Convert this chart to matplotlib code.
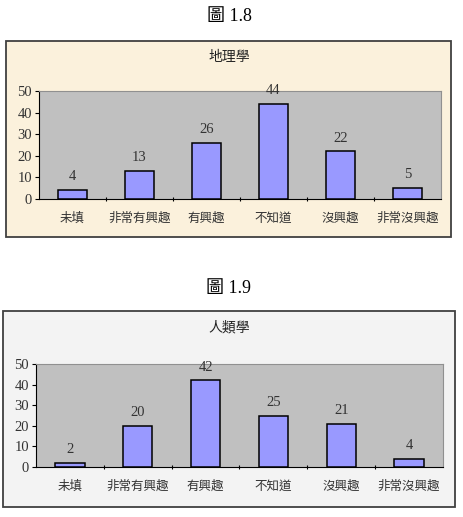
import matplotlib
matplotlib.use("Agg")
import matplotlib.pyplot as plt
from matplotlib.patches import Rectangle

categories = ["未填", "非常有興趣", "有興趣", "不知道", "沒興趣", "非常沒興趣"]
geo_values = [4, 13, 26, 44, 22, 5]
anth_values = [2, 20, 42, 25, 21, 4]
y_ticks = [0, 10, 20, 30, 40, 50]

CJK = ["Liberation Serif", "Noto Sans CJK TC"]
W, H = 463, 517

fig = plt.figure(figsize=(W / 100, H / 100), dpi=100)
fig.patch.set_facecolor("white")


def px_rect(x0, y0, x1, y1):
    # pixel box (top-left origin) -> figure fraction [left, bottom, width, height]
    return [x0 / W, 1 - y1 / H, (x1 - x0) / W, (y1 - y0) / H]


def draw_chart(fig_title, fig_title_y, box, box_color, plot_box, title, title_y, values):
    l, b, w, h = px_rect(*box)
    fig.patches.append(Rectangle((l, b), w, h, transform=fig.transFigure,
                                 facecolor=box_color, edgecolor="#404040",
                                 linewidth=1.3, zorder=-5))
    fig.text(229 / W, 1 - fig_title_y / H, fig_title, family=CJK, fontsize=13,
             ha="center", va="center")
    fig.text(229 / W, 1 - title_y / H, title, family=CJK, fontsize=10,
             ha="center", va="center", color="#222222")

    ax = fig.add_axes(px_rect(*plot_box))
    ax.set_facecolor("#c0c0c0")
    x = range(len(categories))
    bars = ax.bar(x, values, width=0.43, color="#9999ff", edgecolor="black",
                  linewidth=1.1, zorder=3)
    for bar, v in zip(bars, values):
        ax.annotate(str(v), (bar.get_x() + bar.get_width() / 2, v),
                    xytext=(0, 5), textcoords="offset points",
                    ha="center", va="bottom", fontsize=10.5,
                    family=CJK, color="#333333")
    ax.set_xlim(-0.5, len(categories) - 0.5)
    ax.set_ylim(0, 50)
    ax.set_yticks(y_ticks)
    ax.set_yticklabels([str(t) for t in y_ticks], family=CJK, fontsize=10.5, color="#333333")
    ax.set_xticks([i + 0.5 for i in range(len(categories) - 1)], minor=False)
    ax.set_xticklabels([])
    ax.set_xticks(list(x), minor=True)
    ax.set_xticklabels(categories, minor=True, family=CJK, fontsize=9, color="#333333")
    ax.tick_params(axis="x", which="minor", length=0, pad=10)
    ax.tick_params(axis="x", which="major", length=3, direction="inout")
    ax.tick_params(axis="y", length=3, pad=2)
    ax.spines["left"].set_color("black")
    ax.spines["bottom"].set_color("black")
    ax.spines["top"].set_color("#909090")
    ax.spines["right"].set_color("#909090")
    ax.spines["top"].set_linewidth(0.8)
    ax.spines["right"].set_linewidth(0.8)
    return ax


draw_chart("圖 1.8", 17, (6, 41, 451, 237), "#fbf1dc", (39, 91, 441, 199),
           "地理學", 57, geo_values)
draw_chart("圖 1.9", 288, (3, 311, 455, 507), "#f3f3f3", (36, 364, 443, 467),
           "人類學", 328, anth_values)

fig.savefig("out.png", dpi=100)
